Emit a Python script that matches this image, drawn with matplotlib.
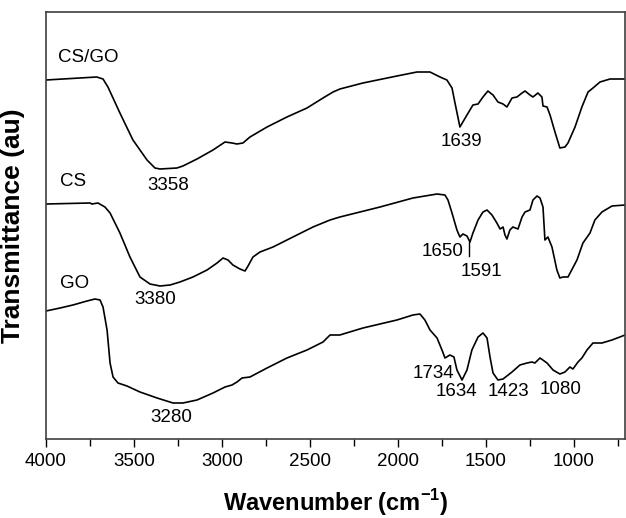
import matplotlib
matplotlib.use("Agg")
import matplotlib.pyplot as plt
from matplotlib.ticker import MultipleLocator

plt.rcParams['font.family'] = ['Liberation Sans', 'DejaVu Sans']
plt.rcParams['mathtext.fontset'] = 'custom'
plt.rcParams['mathtext.rm'] = 'Liberation Sans:bold'
plt.rcParams['mathtext.bf'] = 'Liberation Sans:bold'

# CS/GO spectrum (wavenumber, offset transmittance)
csgo_wn = [4000, 3712, 3676, 3648, 3580, 3506, 3426, 3381, 3352, 3256, 3222, 3142, 3051, 2983,
           2943, 2915, 2881, 2841, 2744, 2631, 2517, 2426, 2369, 2330, 2199, 2006, 1892, 1818,
           1761, 1722, 1693, 1676, 1648, 1608, 1574, 1545, 1517, 1489, 1460, 1432, 1403, 1381,
           1352, 1324, 1295, 1278, 1250, 1233, 1205, 1182, 1176, 1153, 1136, 1108, 1080, 1051,
           1034, 994, 955, 920, 892, 852, 795, 710]
csgo_t = [359, 362, 360, 352, 326, 299, 279, 271, 270, 271, 273, 280, 289, 297,
          296, 295, 296, 302, 312, 322, 331, 341, 347, 350, 356, 363, 367, 367,
          362, 359, 351, 336, 312, 324, 334, 335, 342, 348, 344, 337, 335, 332,
          341, 342, 346, 348, 344, 342, 346, 342, 333, 332, 324, 307, 291, 292,
          296, 312, 332, 347, 351, 357, 360, 360]

# CS spectrum
cs_wn = [4000, 3750, 3739, 3705, 3665, 3636, 3580, 3523, 3466, 3409, 3352, 3295, 3239, 3165,
         3085, 3028, 2994, 2966, 2938, 2898, 2869, 2852, 2824, 2784, 2710, 2597, 2483, 2386,
         2330, 2102, 1915, 1778, 1733, 1716, 1693, 1665, 1648, 1631, 1608, 1591, 1574, 1545,
         1517, 1494, 1466, 1438, 1420, 1403, 1392, 1381, 1364, 1347, 1318, 1295, 1278, 1250,
         1233, 1210, 1193, 1176, 1165, 1148, 1125, 1097, 1080, 1063, 1034, 983, 949, 909,
         881, 841, 784, 710]
cs_t = [235, 236, 235, 236, 232, 226, 206, 182, 162, 155, 153, 154, 157, 162,
        169, 176, 181, 179, 174, 170, 168, 173, 182, 187, 192, 202, 212, 219,
        222, 232, 241, 245, 244, 239, 226, 209, 202, 205, 203, 197, 206, 219,
        227, 229, 224, 216, 210, 212, 204, 200, 209, 212, 210, 222, 227, 229,
        239, 243, 241, 232, 199, 202, 192, 169, 161, 162, 162, 179, 196, 206,
        219, 227, 233, 234]

# GO spectrum
go_wn = [4000, 3920, 3847, 3767, 3722, 3693, 3676, 3653, 3636, 3619, 3591, 3540, 3466, 3369,
         3278, 3222, 3142, 3051, 2983, 2943, 2915, 2886, 2841, 2744, 2631, 2517, 2426, 2386,
         2330, 2312, 2199, 2006, 1915, 1875, 1847, 1818, 1778, 1750, 1733, 1705, 1682, 1665,
         1636, 1608, 1580, 1545, 1517, 1494, 1477, 1460, 1432, 1403, 1352, 1307, 1267, 1239,
         1222, 1193, 1153, 1119, 1080, 1051, 1023, 1006, 977, 955, 926, 892, 841, 784, 739, 710]
go_t = [128, 131, 134, 138, 140, 139, 132, 109, 76, 62, 56, 53, 47, 41,
        36, 36, 39, 46, 52, 54, 57, 61, 62, 71, 81, 89, 97, 104,
        104, 105, 111, 119, 124, 125, 119, 109, 101, 89, 81, 84, 82, 69,
        59, 69, 89, 102, 106, 101, 82, 66, 59, 60, 67, 74, 76, 77,
        76, 81, 76, 69, 65, 67, 72, 70, 77, 81, 89, 96, 96, 99, 102, 104]

# sample names and peak annotations: (text, wavenumber, y)
names = [("CS/GO", 3932, 382), ("CS", 3920, 257), ("GO", 3920, 155)]
peaks = [("3358", 3307, 254), ("3380", 3381, 140), ("3280", 3290, 22),
         ("1639", 1642, 297), ("1650", 1744, 187), ("1591", 1523, 167),
         ("1734", 1801, 66), ("1634", 1665, 47), ("1423", 1375, 47), ("1080", 1074, 49)]

fig = plt.figure(figsize=(6.26, 5.18), dpi=100)
ax = fig.add_axes([46/626, 79/518, 579/626, 427/518])

for wn, t in [(csgo_wn, csgo_t), (cs_wn, cs_t), (go_wn, go_t)]:
    ax.plot(wn, t, color='black', lw=1.2)

for txt, x, y in names:
    ax.text(x, y, txt, fontsize=13.5, ha='left', va='center')
for txt, x, y in peaks:
    ax.text(x, y, txt, fontsize=13.5, ha='center', va='center')
# small marker line for the 1591 band
ax.plot([1597, 1597], [183, 197], color='black', lw=1.0)

ax.set_xlim(4000, 710)
ax.set_ylim(0, 427)
ax.xaxis.set_major_locator(MultipleLocator(500))
ax.xaxis.set_minor_locator(MultipleLocator(250))
ax.tick_params(axis='x', which='major', direction='out', length=6, width=1.0, labelsize=13.5, pad=4)
ax.tick_params(axis='x', which='minor', direction='out', length=5, width=1.0)
ax.set_yticks([])
for s in ax.spines.values():
    s.set_color('#404040')
    s.set_linewidth(1.2)

fig.text(336/626, 1 - 503/518, "Wavenumber (cm$^{\\mathbf{-1}}$)", ha='center', va='center',
         fontsize=17, fontweight='bold')
fig.text(13/626, 1 - 226/518, "Transmittance (au)", rotation=90, ha='center', va='center',
         fontsize=19, fontweight='bold')

fig.savefig("out.png", dpi=100)
